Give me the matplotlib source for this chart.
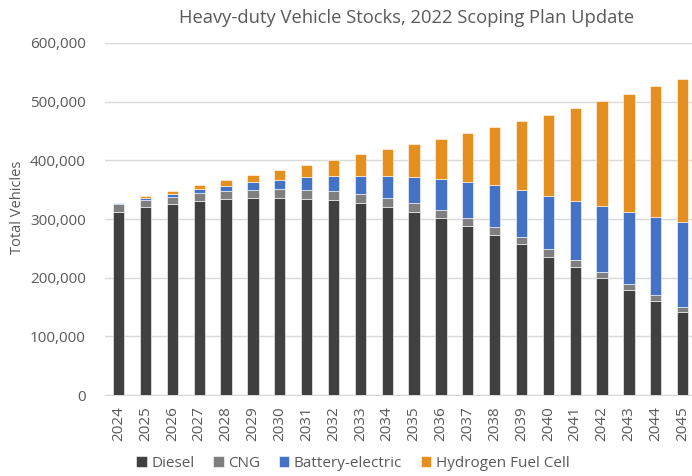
import matplotlib.pyplot as plt
import numpy as np

years = [str(y) for y in range(2024, 2046)]

# thousands of vehicles
diesel = [312.5, 320, 325.5, 331, 333.5, 335, 336, 334.5, 332, 328, 320,
          312, 301, 288.5, 273, 257, 236, 217.5, 199, 179.5, 160, 142]
cng = [12.5, 12, 12.5, 13, 13.5, 15, 15, 14.5, 15, 14, 15,
       14.5, 14, 13.5, 13, 12, 13, 12, 10.5, 9.5, 10, 8]
bev = [1.5, 4, 5, 7, 10, 13, 16, 22, 27, 32, 39,
       45.5, 54, 61.5, 71.5, 81, 91, 101.5, 112.5, 123.5, 133, 145.5]
hfc = [0.5, 2.5, 4.5, 7, 9, 12, 16, 21, 27, 36, 45,
       56, 68, 83.5, 99.5, 117, 138, 158, 179, 201, 223, 243.5]

names = ['Diesel', 'CNG', 'Battery-electric', 'Hydrogen Fuel Cell']
colors = ['#404040', '#7f7f7f', '#4472c4', '#e48f1e']

plt.rcParams['font.family'] = ['Open Sans', 'DejaVu Sans']

fig = plt.figure(figsize=(6.92, 4.76), dpi=100)
ax = fig.add_axes([0.152, 0.170, 0.848, 0.7397])

x = np.arange(len(years))
bottom = np.zeros(len(years))
for vals, name, c in zip([diesel, cng, bev, hfc], names, colors):
    v = np.array(vals) * 1000
    ax.bar(x, v, 0.42, bottom=bottom, color=c, label=name,
           edgecolor='white', linewidth=0.4, zorder=3)
    bottom += v

ax.set_xlim(-0.5, 21.35)
ax.set_ylim(0, 600000)
ax.set_yticks(np.arange(0, 600001, 100000))
ax.set_yticklabels(['{:,}'.format(t) for t in range(0, 600001, 100000)])
ax.set_xticks(x)
ax.set_xticklabels(years, rotation=90)
ax.tick_params(axis='both', length=0, colors='#595959', labelsize=11)
ax.tick_params(axis='y', pad=14)
ax.tick_params(axis='x', pad=8)
ax.grid(axis='y', color='#d9d9d9', linewidth=1, zorder=0)
for s in ['top', 'right', 'left']:
    ax.spines[s].set_visible(False)
ax.spines['bottom'].set_color('#d9d9d9')

fig.text(0.026, 0.565, 'Total Vehicles', rotation=90, ha='center', va='center',
         color='#595959', fontsize=10.5)
fig.text(0.587, 0.962, 'Heavy-duty Vehicle Stocks, 2022 Scoping Plan Update',
         ha='center', va='center', color='#595959', fontsize=13.2)

fig.legend(loc='center', bbox_to_anchor=(0.51, 0.026), ncol=4, frameon=False,
           fontsize=11, handlelength=0.7, handleheight=0.7, handletextpad=0.3,
           columnspacing=1.2, labelcolor='#595959')

fig.savefig('out.png', dpi=100)
